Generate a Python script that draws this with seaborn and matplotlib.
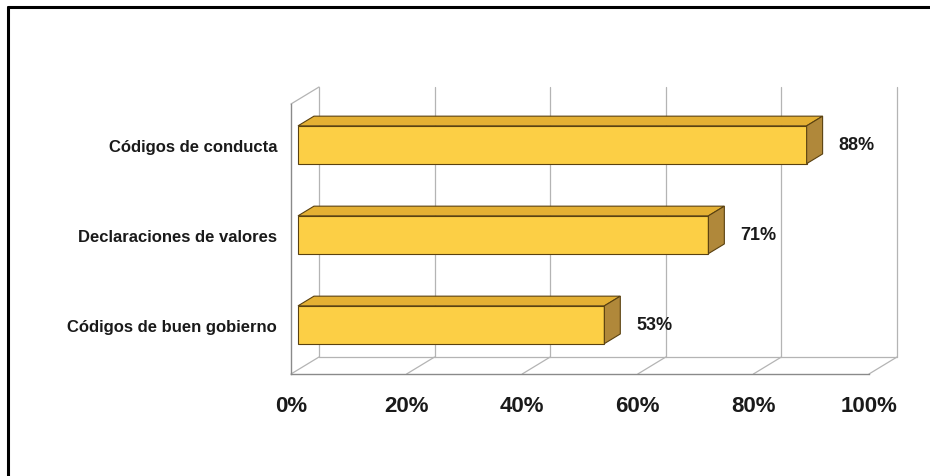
import matplotlib
matplotlib.use("Agg")
import matplotlib.pyplot as plt
from matplotlib.patches import Polygon
from matplotlib.lines import Line2D
from matplotlib.transforms import ScaledTranslation
import pandas as pd
import seaborn as sns

# --- data -----------------------------------------------------------------
categories = ["Códigos de conducta", "Declaraciones de valores", "Códigos de buen gobierno"]
values = [88, 71, 53]
tick_values = [0, 20, 40, 60, 80, 100]
tick_labels = ["0%", "20%", "40%", "60%", "80%", "100%"]
value_labels = [f"{v}%" for v in values]

# --- style ----------------------------------------------------------------
FRONT = "#FCCF45"
TOP = "#E4B033"
SIDE = "#B0883A"
EDGE = "#5A4110"
GRID = "#B4B4B4"
AXIS = "#8A8A8A"

sns.set_theme(style="white")
plt.rcParams["font.family"] = ["Liberation Sans", "DejaVu Sans"]

W, H, DPI = 930, 477, 100
fig = plt.figure(figsize=(W / DPI, H / DPI), dpi=DPI)
fig.patch.set_facecolor("white")

# front plane of the pseudo-3D box, in pixels
x0_px, x1_px = 291, 869
ytop_px, ybot_px = 105, 375
ax = fig.add_axes([x0_px / W, (H - ybot_px) / H, (x1_px - x0_px) / W, (ybot_px - ytop_px) / H])
ax.set_facecolor("none")

df = pd.DataFrame({"categoria": categories, "valor": values})
sns.barplot(data=df, x="valor", y="categoria", orient="h", width=0.42,
            color=FRONT, saturation=1, edgecolor=EDGE, linewidth=0.8, ax=ax, zorder=3)

ax.set_xlim(0, 100)
ax.set_ylim(2.5, -0.5)

# depth of the box expressed in data units
px_per_x = (x1_px - x0_px) / 100.0
px_per_y = (ybot_px - ytop_px) / 3.0
DX = 28 / px_per_x          # full depth, horizontal
DY = 17 / px_per_y          # full depth, vertical (upwards)
F_FRONT = 0.25              # depth fraction of the bars' front face
F_BACK = 0.82               # depth fraction of the bars' back face

# back wall, floor and side walls
grid_kw = dict(color=GRID, lw=0.9, zorder=1, clip_on=False)
y_floor = 2.5 - DY
y_ceil = -0.5 - DY
for t in tick_values:
    ax.plot([t + DX, t + DX], [y_floor, y_ceil], **grid_kw)
    ax.plot([t, t + DX], [2.5, y_floor], **grid_kw)
ax.plot([DX, 100 + DX], [y_floor, y_floor], **grid_kw)
ax.plot([0, DX], [-0.5, y_ceil], **grid_kw)

# turn the flat bars into boxes
for patch in list(ax.patches):
    bx, by = patch.get_x(), patch.get_y()
    bw, bh = patch.get_width(), patch.get_height()
    fx, fy = F_FRONT * DX, F_FRONT * DY
    bkx, bky = F_BACK * DX, F_BACK * DY
    patch.set_x(bx + fx)
    patch.set_y(by - fy)
    left = bx + fx
    right = bx + fx + bw
    top = by - fy                 # upper edge on screen (inverted y)
    bottom = by - fy + bh
    ddx, ddy = bkx - fx, bky - fy
    top_face = Polygon([[left, top], [right, top], [right + ddx, top - ddy], [left + ddx, top - ddy]],
                       closed=True, facecolor=TOP, edgecolor=EDGE, lw=0.8, zorder=3, clip_on=False)
    side_face = Polygon([[right, top], [right + ddx, top - ddy], [right + ddx, bottom - ddy], [right, bottom]],
                        closed=True, facecolor=SIDE, edgecolor=EDGE, lw=0.8, zorder=3, clip_on=False)
    ax.add_patch(top_face)
    ax.add_patch(side_face)
    patch.set_clip_on(False)

# value labels next to each box
for i, (v, lab) in enumerate(zip(values, value_labels)):
    ax.annotate(lab, xy=(v + F_FRONT * DX, i - F_FRONT * DY), xytext=(23, 0),
                textcoords="offset points", ha="left", va="center",
                fontsize=13, fontweight="bold", color="#1a1a1a", annotation_clip=False)

# axes, ticks and labels
for side in ("top", "right"):
    ax.spines[side].set_visible(False)
for side in ("left", "bottom"):
    ax.spines[side].set_color(AXIS)
    ax.spines[side].set_linewidth(1.0)
    ax.spines[side].set_zorder(2)

ax.set_xticks(tick_values)
ax.set_xticklabels(tick_labels, fontsize=16, fontweight="bold", color="#1a1a1a")
ax.tick_params(axis="x", direction="out", length=5, width=1.0, color="#555555", pad=10)

ax.set_yticks([-0.5, 0.5, 1.5, 2.5], minor=True)
ax.tick_params(axis="y", which="minor", direction="out", length=5, width=1.0, color="#555555")
ax.tick_params(axis="y", which="major", length=0, pad=10)
for lbl in ax.get_yticklabels():
    lbl.set_fontsize(12)
    lbl.set_fontweight("bold")
    lbl.set_color("#1a1a1a")
    lbl.set_transform(lbl.get_transform() + ScaledTranslation(0, 0.04, fig.dpi_scale_trans))

ax.set_xlabel("")
ax.set_ylabel("")

# outer frame (top and left edges)
fx0, fy0 = 7.5 / W, 1 - 7.5 / H
fig.add_artist(Line2D([fx0, 1.0], [fy0, fy0], transform=fig.transFigure, color="black", lw=2.2))
fig.add_artist(Line2D([fx0, fx0], [0.0, fy0], transform=fig.transFigure, color="black", lw=2.2))

fig.savefig("out.png", dpi=DPI, facecolor="white")
